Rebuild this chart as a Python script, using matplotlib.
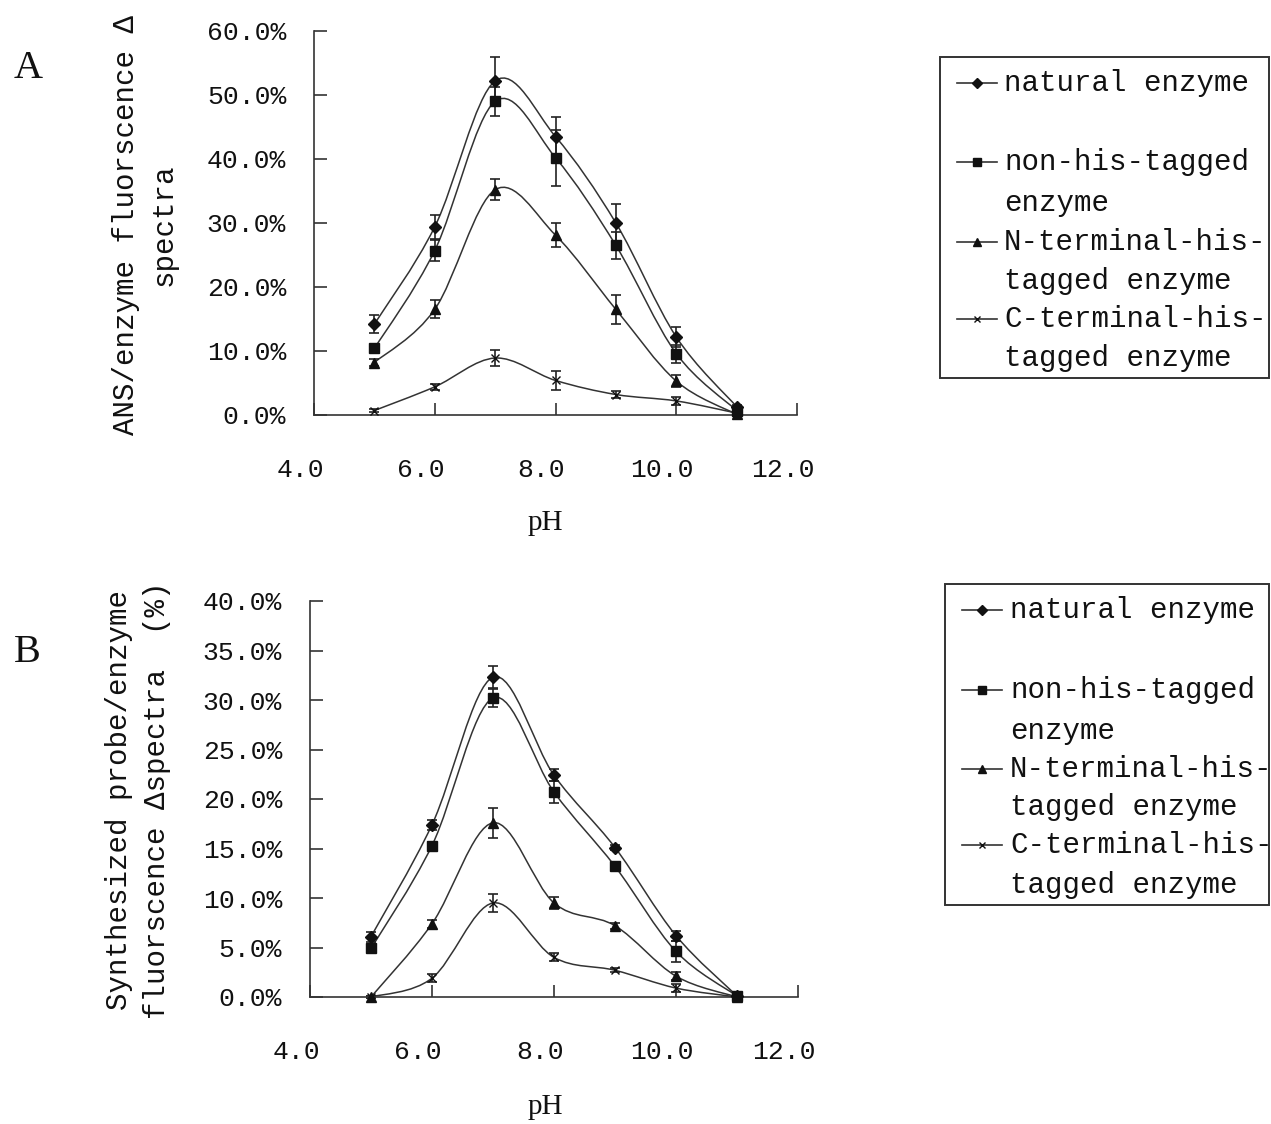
import numpy as np
import matplotlib
matplotlib.use("Agg")
import matplotlib.pyplot as plt
from matplotlib.path import Path
from matplotlib.patches import PathPatch, Rectangle
from matplotlib.lines import Line2D
import matplotlib.transforms as mtrans

# ---------------- data ----------------
ph = [5, 6, 7, 8, 9, 10, 11]
series_names = ["natural enzyme", "non-his-tagged enzyme",
                "N-terminal-his-tagged enzyme", "C-terminal-his-tagged enzyme"]

# Panel A: ANS/enzyme fluorescence delta spectra (%)
a_natural = [14.2, 29.4, 52.2, 43.5, 30.0, 12.2, 1.3]
a_natural_err = [1.4, 1.9, 3.7, 3.0, 2.9, 1.5, 0.3]
a_nonhis = [10.4, 25.7, 49.0, 40.2, 26.5, 9.6, 0.7]
a_nonhis_err = [0.5, 1.7, 2.3, 4.4, 2.1, 1.4, 0.3]
a_nterm = [8.2, 16.5, 35.2, 28.1, 16.5, 5.3, 0.1]
a_nterm_err = [0.5, 1.4, 1.6, 1.9, 2.3, 0.9, 0.2]
a_cterm = [0.7, 4.4, 8.9, 5.4, 3.2, 2.2, 0.3]
a_cterm_err = [0.3, 0.5, 1.2, 1.5, 0.5, 0.6, 0.2]

# Panel B: synthesized probe/enzyme fluorescence delta spectra (%)
b_natural = [6.1, 17.4, 32.3, 22.4, 15.1, 6.2, 0.1]
b_natural_err = [0.5, 0.5, 1.1, 0.6, 0.3, 0.5, 0.1]
b_nonhis = [4.9, 15.3, 30.2, 20.7, 13.2, 4.6, 0.1]
b_nonhis_err = [0.4, 0.4, 0.9, 1.1, 0.3, 1.1, 0.1]
b_nterm = [0.0, 7.4, 17.6, 9.5, 7.2, 2.1, 0.0]
b_nterm_err = [0.1, 0.4, 1.5, 0.6, 0.3, 0.4, 0.1]
b_cterm = [0.0, 1.9, 9.5, 4.0, 2.7, 0.9, 0.0]
b_cterm_err = [0.1, 0.4, 0.9, 0.4, 0.2, 0.4, 0.1]

x_ticks = [4.0, 6.0, 8.0, 10.0, 12.0]
a_yticks = [0, 10, 20, 30, 40, 50, 60]
b_yticks = [0, 5, 10, 15, 20, 25, 30, 35, 40]

a_ylabel = "ANS/enzyme fluorscence Δ\nspectra"
b_ylabel = "Synthesized probe/enzyme\nfluorscence Δspectra  (%)"

legend_rows = ["natural enzyme", "non-his-tagged", "enzyme",
               "N-terminal-his-", "tagged enzyme",
               "C-terminal-his-", "tagged enzyme"]

# ---------------- style ----------------
W, H = 1271, 1124
MONO = "Liberation Mono"
SERIF = "Liberation Serif"
LINE_C = "#333333"
MK_C = "#111111"
markers = [dict(marker="D", ms=6.5), dict(marker="s", ms=7),
           dict(marker="^", ms=7.5), dict(marker="x", ms=6, mew=1.0)]

fig = plt.figure(figsize=(W / 100, H / 100), dpi=100)


def fx(px):
    return px / W


def fy(py):
    return 1 - py / H


def smooth_path(x, y):
    pts = np.column_stack([x, y]).astype(float)
    n = len(pts)
    verts = [pts[0]]
    codes = [Path.MOVETO]
    for i in range(n - 1):
        p0 = pts[i - 1] if i > 0 else pts[i]
        p1 = pts[i]
        p2 = pts[i + 1]
        p3 = pts[i + 2] if i + 2 < n else pts[i + 1]
        c1 = p1 + (p2 - p0) / 6.0
        c2 = p2 - (p3 - p1) / 6.0
        verts += [c1, c2, p2]
        codes += [Path.CURVE4] * 3
    return Path(verts, codes)


def make_panel(rect_px, ymax, yticks, series, errs, ylabel, ylabel_xy,
               letter, letter_xy, ph_xy):
    l, t, r, b = rect_px
    ax = fig.add_axes([fx(l), fy(b), fx(r) - fx(l), fy(t) - fy(b)])
    for s, e, mk in zip(series, errs, markers):
        ax.add_patch(PathPatch(smooth_path(ph, s), fill=False,
                               edgecolor=LINE_C, lw=1.1, clip_on=False))
        ax.errorbar(ph, s, yerr=e, fmt="none", ecolor="#222222",
                    elinewidth=1.2, capsize=3.5, capthick=1.2, clip_on=False)
        ax.plot(ph, s, linestyle="none", color=MK_C, mec=MK_C,
                clip_on=False, zorder=5, **mk)
    ax.set_xlim(4, 12)
    ax.set_ylim(0, ymax)
    ax.set_xticks(x_ticks)
    ax.set_yticks(yticks)
    ax.set_xticklabels([f"{v:.1f}" for v in x_ticks])
    ax.set_yticklabels([f"{v:.1f}%" for v in yticks])
    for sp in ["top", "right"]:
        ax.spines[sp].set_visible(False)
    for sp in ["left", "bottom"]:
        ax.spines[sp].set_color("#333333")
        ax.spines[sp].set_linewidth(1.2)
    ax.tick_params(axis="both", direction="in", length=9, width=1.2,
                   color="#333333", labelsize=19, labelcolor="#111111")
    ax.tick_params(axis="x", pad=31)
    ax.tick_params(axis="y", pad=20)
    for lab in ax.get_xticklabels() + ax.get_yticklabels():
        lab.set_fontfamily(MONO)
    off = mtrans.ScaledTranslation(-14 / 100, 0, fig.dpi_scale_trans)
    for lab in ax.get_xticklabels():
        lab.set_transform(lab.get_transform() + off)
    fig.text(fx(ylabel_xy[0]), fy(ylabel_xy[1]), ylabel, rotation=90,
             ha="center", va="center", multialignment="center",
             fontsize=21, family=MONO, color="#111111", linespacing=1.45)
    fig.text(fx(letter_xy[0]), fy(letter_xy[1]), letter, ha="center",
             va="center", fontsize=29, family=SERIF, color="#111111")
    fig.text(fx(ph_xy[0]), fy(ph_xy[1]), "pH", ha="center", va="center",
             fontsize=21, family=SERIF, color="#111111")
    return ax


def make_legend(box, hx, tx, rows_y):
    x0, y0, x1, y1 = box
    fig.add_artist(Rectangle((fx(x0), fy(y1)), fx(x1) - fx(x0),
                             fy(y0) - fy(y1), transform=fig.transFigure,
                             fill=False, edgecolor="#333333", lw=1.4))
    handle_rows = [0, 1, 3, 5]
    for k, mk in zip(handle_rows, markers):
        yy = fy(rows_y[k])
        fig.add_artist(Line2D([fx(hx[0]), fx(hx[1])], [yy, yy],
                              transform=fig.transFigure, color=LINE_C, lw=1.2))
        mk2 = dict(mk)
        mk2["ms"] = mk["ms"] * 0.8
        fig.add_artist(Line2D([fx((hx[0] + hx[1]) / 2)], [yy],
                              transform=fig.transFigure, linestyle="none",
                              color=MK_C, mec=MK_C, **mk2))
    for txt, yy in zip(legend_rows, rows_y):
        fig.text(fx(tx), fy(yy), txt, ha="left", va="center", fontsize=21,
                 family=MONO, color="#111111")


make_panel((314, 31, 797, 415), 60, a_yticks,
           [a_natural, a_nonhis, a_nterm, a_cterm],
           [a_natural_err, a_nonhis_err, a_nterm_err, a_cterm_err],
           a_ylabel, (145, 225), "A", (28, 68), (545, 523))
make_panel((310, 601, 798, 997), 40, b_yticks,
           [b_natural, b_nonhis, b_nterm, b_cterm],
           [b_natural_err, b_nonhis_err, b_nterm_err, b_cterm_err],
           b_ylabel, (138, 800), "B", (27, 652), (545, 1107))

make_legend((940, 57, 1269, 378), (957, 997), 1004,
            [83, 162, 203, 242, 281, 319, 358])
make_legend((945, 584, 1269, 905), (962, 1002), 1010,
            [610, 690, 731, 769, 807, 845, 885])

fig.savefig("out.png", dpi=100)
